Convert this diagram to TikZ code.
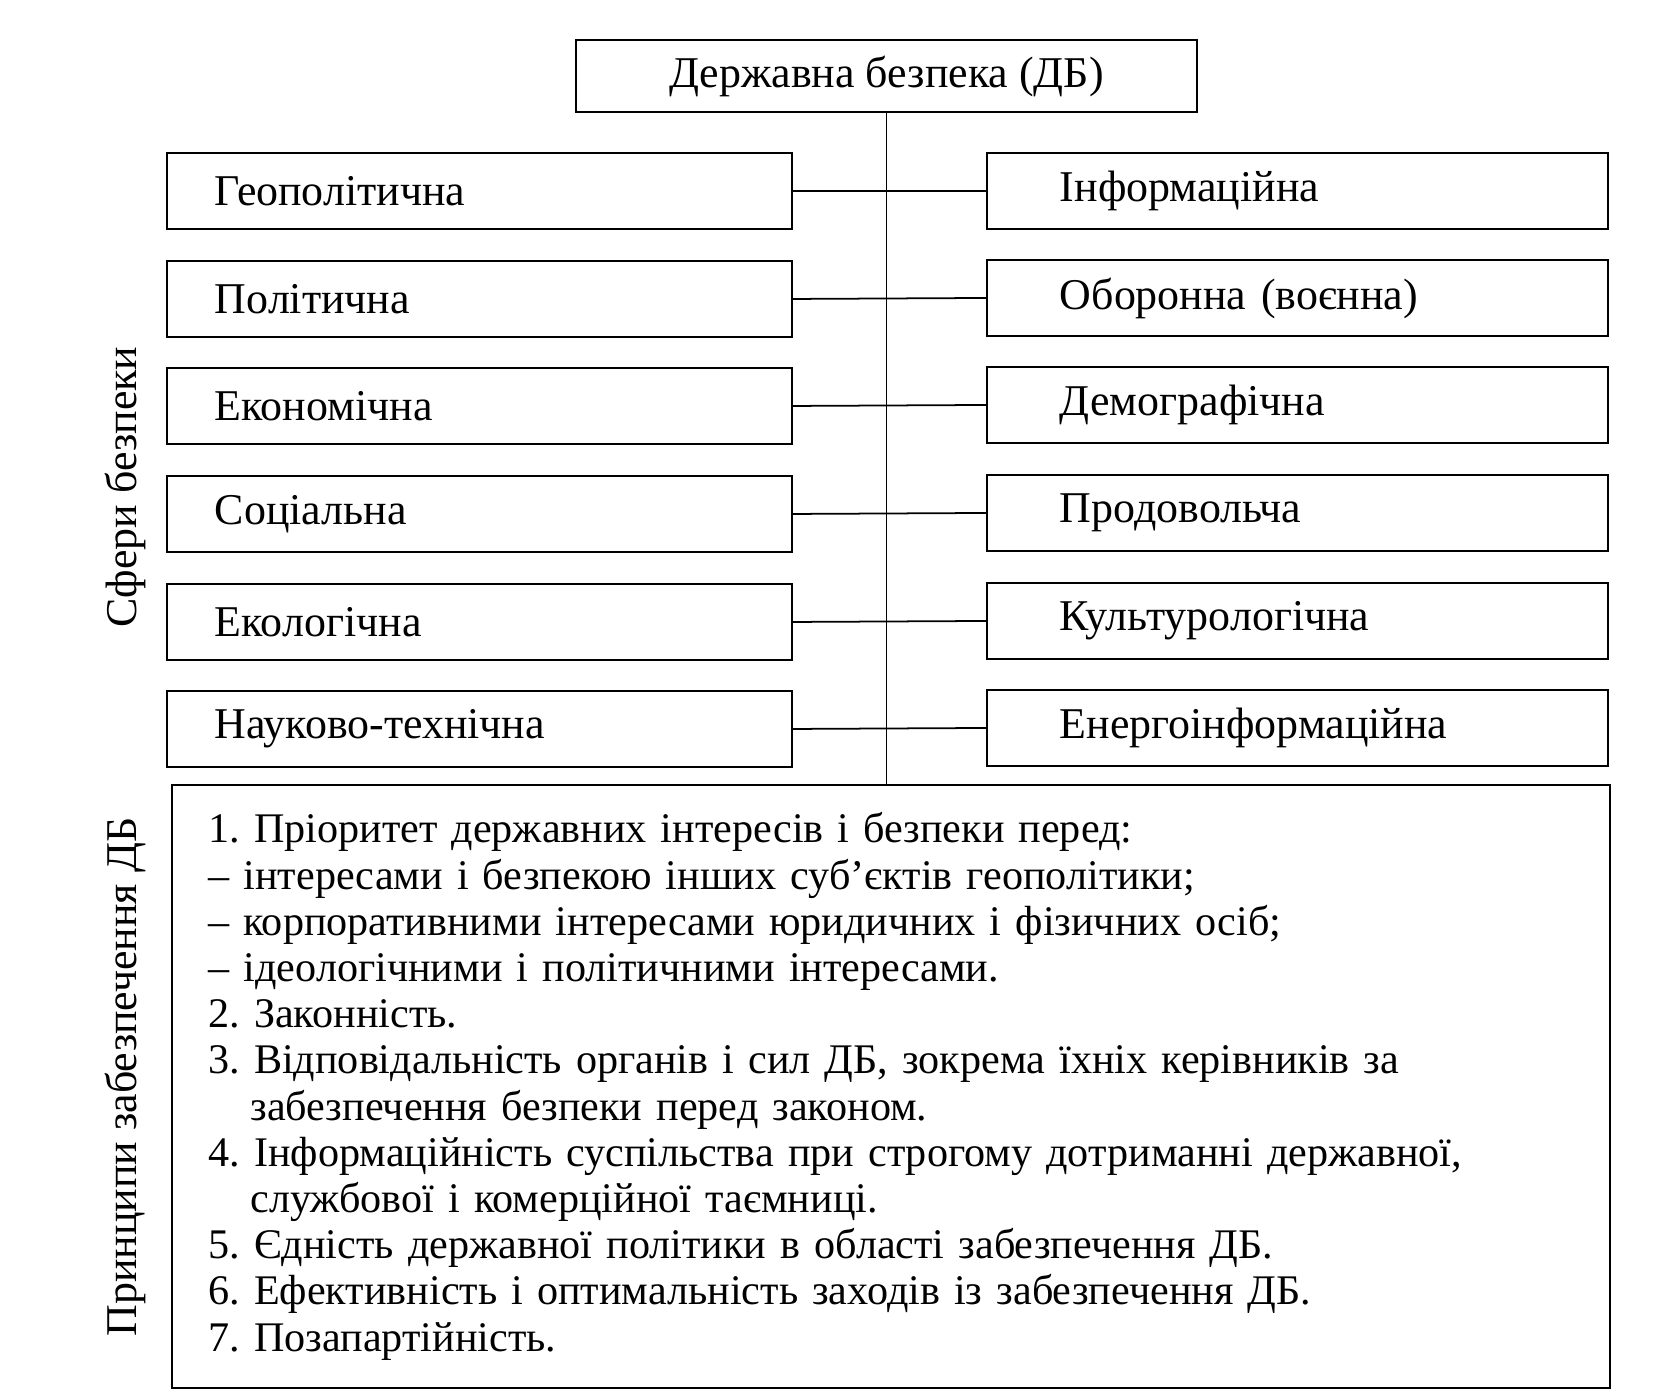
\documentclass[tikz,border=0pt]{standalone}
\usepackage{fontspec}
\setmainfont{Liberation Serif}
\usetikzlibrary{positioning}

\begin{document}
\frenchspacing
\begin{tikzpicture}[x=0.02cm,y=-0.02cm,
    lbox/.style={draw,line width=1.1pt,anchor=north west,minimum height=1.52cm,
      inner xsep=0.96cm,text width=10.58cm,align=left,font=\fontsize{25}{28}\selectfont},
    rbox/.style={draw,line width=1.1pt,anchor=north west,minimum height=1.52cm,
      inner xsep=1.46cm,text width=9.5cm,align=left,font=\fontsize{25}{28}\selectfont},
    side/.style={rotate=90,font=\fontsize{25}{28}\selectfont},
    link/.style={line width=1pt}]
  \useasboundingbox (0,0) rectangle (1680,1390);

  % top
  \node[draw,line width=1.1pt,minimum width=12.42cm,minimum height=1.44cm,
    font=\fontsize{25}{28}\selectfont] (db) at (886.5,76) {Державна безпека (ДБ)};

  % left column
  \node[lbox] (geo) at (166,152) {Геополітична};
  \node[lbox] (pol) at (166,260) {Політична};
  \node[lbox] (eco) at (166,367) {Економічна};
  \node[lbox] (soc) at (166,475) {Соціальна};
  \node[lbox] (ekol) at (166,583) {Екологічна};
  \node[lbox] (sci) at (166,690) {Науково-технічна};

  % right column
  \node[rbox] (inf) at (986,152) {Інформаційна};
  \node[rbox] (def) at (986,259) {Оборонна (воєнна)};
  \node[rbox] (dem) at (986,366) {Демографічна};
  \node[rbox] (food) at (986,474) {Продовольча};
  \node[rbox] (cult) at (986,582) {Культурологічна};
  \node[rbox] (enrg) at (986,689) {Енергоінформаційна};

  % principles
  \node[draw,line width=1.1pt,anchor=north west,minimum width=28.76cm,minimum height=12.06cm,
    inner xsep=0.72cm,text width=27.3cm,align=left,
    font=\fontsize{24}{26.3}\selectfont] (prin) at (171,784) {%
    1. Пріоритет державних інтересів і безпеки перед:\\
    -- інтересами і безпекою інших суб’єктів геополітики;\\
    -- корпоративними інтересами юридичних і фізичних осіб;\\
    -- ідеологічними і політичними інтересами.\\
    2. Законність.\\
    3. Відповідальність органів і сил ДБ, зокрема їхніх керівників за\\
    \hspace*{0.84cm}забезпечення безпеки перед законом.\\
    4. Інформаційність суспільства при строгому дотриманні державної,\\
    \hspace*{0.84cm}службової і комерційної таємниці.\\
    5. Єдність державної політики в області забезпечення ДБ.\\
    6. Ефективність і оптимальність заходів із забезпечення ДБ.\\
    7. Позапартійність.};

  % side labels
  \node[side] (sfery) at (125,487) {Сфери безпеки};
  \node[side] (pryn) at (125,1077) {Принципи забезпечення ДБ};

  % links
  \draw[link] (db.south) -- (db.south |- prin.north);
  \draw[link] (geo.east) -- (inf.west);
  \draw[link] (pol.east) -- (def.west);
  \draw[link] (eco.east) -- (dem.west);
  \draw[link] (soc.east) -- (food.west);
  \draw[link] (ekol.east) -- (cult.west);
  \draw[link] (sci.east) -- (enrg.west);
\end{tikzpicture}
\end{document}
